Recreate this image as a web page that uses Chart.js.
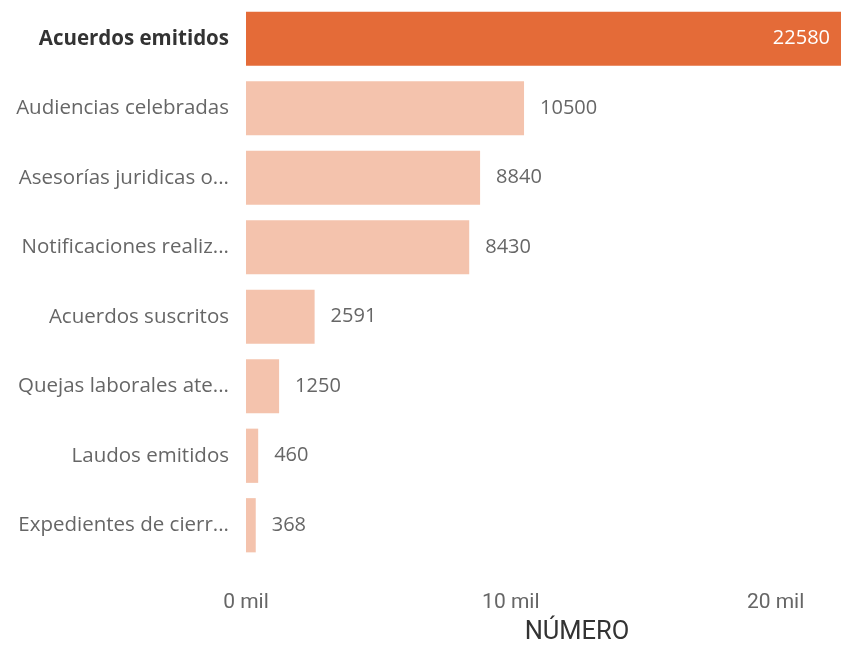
<!DOCTYPE html>
<html>
<head>
<meta charset="utf-8">
<script src="https://cdn.jsdelivr.net/npm/chart.js@4"></script>
<style>
    html, body { margin: 0; padding: 0; background: #fff; overflow: hidden; }
    #page { width: 841px; height: 648px; overflow: hidden; }
    /* el gráfico es más ancho que la página: el eje llega a 25 mil y se recorta */
    #wrap { width: 910px; height: 648px; }
</style>
</head>
<body>
<div id="page"><div id="wrap"><canvas id="chart"></canvas></div></div>
<script>
const categorias = [
    "Acuerdos emitidos",
    "Audiencias celebradas",
    "Asesorías juridicas o...",
    "Notificaciones realiz...",
    "Acuerdos suscritos",
    "Quejas laborales ate...",
    "Laudos emitidos",
    "Expedientes de cierr..."
];
const valores = [22580, 10500, 8840, 8430, 2591, 1250, 460, 368];
const ticksX = [0, 10000, 20000];

const oscuro = "#e46b38";
const claro = "#f4c3ad";
const anchoVisible = 841;

// etiquetas de valor en cada barra
const etiquetas = {
    id: "etiquetas",
    afterDatasetsDraw(chart) {
        const ctx = chart.ctx;
        const meta = chart.getDatasetMeta(0);
        ctx.save();
        ctx.font = "20px 'Open Sans', sans-serif";
        ctx.textBaseline = "middle";
        meta.data.forEach((bar, i) => {
            const txt = String(valores[i]);
            if (i === 0) {
                ctx.fillStyle = "#ffffff";
                ctx.textAlign = "right";
                ctx.fillText(txt, Math.min(bar.x, anchoVisible) - 11, bar.y);
            } else {
                ctx.fillStyle = "#666666";
                ctx.textAlign = "left";
                ctx.fillText(txt, bar.x + 16, bar.y);
            }
        });
        ctx.restore();
    }
};

new Chart(document.getElementById("chart"), {
    type: "bar",
    data: {
        labels: categorias,
        datasets: [{
            data: valores,
            backgroundColor: valores.map((v, i) => i === 0 ? oscuro : claro),
            categoryPercentage: 1,
            barPercentage: 0.78
        }]
    },
    options: {
        responsive: true,
        maintainAspectRatio: false,
        animation: false,
        indexAxis: "y",
        layout: { padding: { top: 4, right: 2, left: 0, bottom: 0 } },
        plugins: {
            legend: { display: false },
            tooltip: { enabled: false }
        },
        scales: {
            x: {
                min: 0,
                max: 25000,
                afterBuildTicks: s => { s.ticks = ticksX.map(v => ({ value: v })); },
                afterFit: s => { s.height = 88; s.paddingLeft = 0; s.paddingRight = 0; },
                grid: { display: false, drawTicks: false },
                border: { display: false },
                ticks: {
                    padding: 30,
                    maxRotation: 0,
                    color: "#666666",
                    font: { family: "'Roboto', sans-serif", size: 21 },
                    callback: v => (v / 1000) + " mil"
                },
                title: {
                    display: true,
                    text: "NÚMERO",
                    color: "#333333",
                    font: { family: "'Roboto', sans-serif", size: 25.5 },
                    padding: { top: 0, bottom: 0 }
                }
            },
            y: {
                afterFit: s => { s.width = 246; s.paddingTop = 0; s.paddingBottom = 0; },
                grid: { display: false, drawTicks: false },
                border: { display: false },
                ticks: {
                    padding: 17,
                    color: ctx => ctx.index === 0 ? "#333333" : "#666666",
                    font: ctx => ({
                        family: "'Open Sans', sans-serif",
                        size: 20.5,
                        weight: ctx.index === 0 ? "bold" : "normal"
                    })
                }
            }
        }
    },
    plugins: [etiquetas]
});
</script>
</body>
</html>
